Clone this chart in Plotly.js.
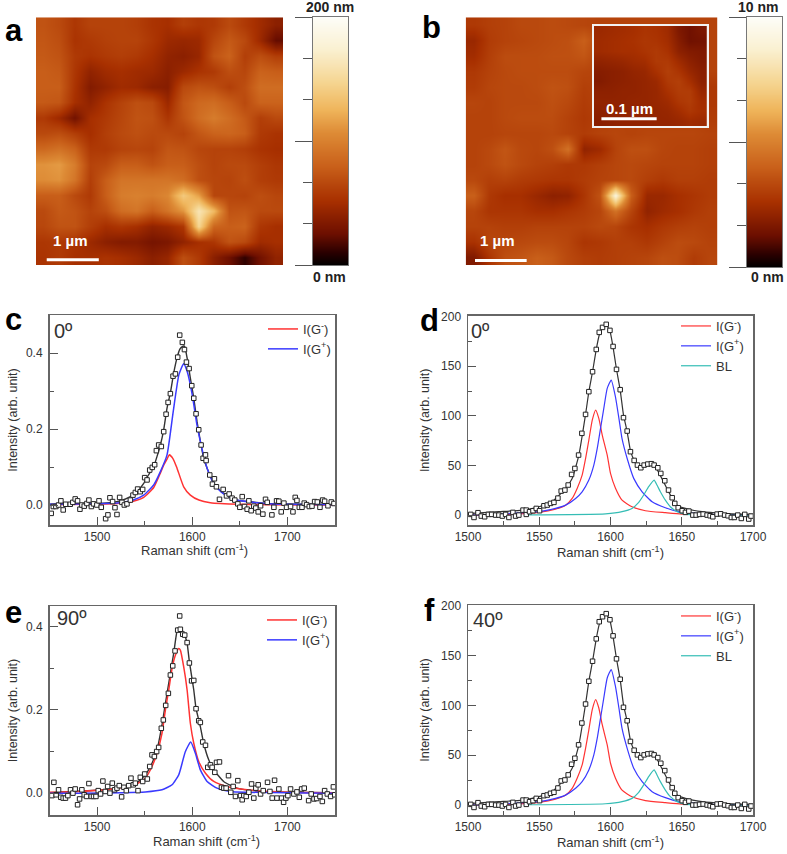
<!DOCTYPE html>
<html><head><meta charset="utf-8">
<script src="https://cdn.plot.ly/plotly-3.0.1.min.js"></script>
<style>html,body{margin:0;padding:0;background:#fff}</style></head>
<body><div id="chart" style="width:787px;height:854px"></div>
<script>
// ---------- AFM height maps (nm), hand read, rows top to bottom ----------
const afmA = [
[78,72,60,68,68,68,65,58,55,65,60,62,72,62,52,42],
[80,75,58,62,66,68,68,60,50,48,50,70,82,72,50,25],
[82,78,62,58,62,65,62,55,45,42,48,78,88,65,75,65],
[85,82,60,45,52,55,52,50,42,50,58,62,75,70,88,85],
[85,85,58,38,45,52,50,42,40,72,78,75,65,75,95,95],
[82,80,55,45,58,68,76,72,50,80,92,95,85,72,88,88],
[62,50,30,55,62,70,78,76,60,78,95,105,95,82,65,72],
[72,75,65,55,65,72,76,72,72,68,80,88,90,85,62,58],
[92,98,88,62,62,68,70,68,80,78,70,68,68,65,58,55],
[118,122,105,68,72,85,85,78,85,85,75,68,72,72,65,60],
[115,118,100,65,85,100,100,100,100,95,75,70,68,75,65,62],
[85,85,72,62,85,105,108,105,112,150,125,70,70,68,75,70],
[72,82,78,68,75,95,100,85,100,120,175,140,78,80,72,72],
[70,78,78,65,55,60,55,45,50,60,160,90,85,88,60,55],
[60,62,58,50,42,38,38,32,35,45,55,60,78,72,52,55],
[58,62,55,55,58,55,50,42,48,75,62,42,28,12,30,45]];
const afmB = [
[3.0,3.2,3.3,3.5,3.5,3.6,3.5,3.4,3.3,3.3,3.3,3.3,3.3,3.3,3.3,3.3],
[2.4,3.1,3.3,3.4,3.5,3.6,3.7,4.2,3.4,3.3,3.3,3.3,3.3,3.3,3.3,3.3],
[2.6,3.2,3.6,3.6,3.6,3.7,3.7,3.9,3.3,3.3,3.3,3.3,3.3,3.3,3.3,3.3],
[3.0,3.3,3.5,3.6,3.6,3.6,3.6,3.4,3.3,3.3,3.3,3.3,3.3,3.3,3.3,3.3],
[3.1,3.4,3.5,3.5,3.6,3.8,3.7,3.2,3.3,3.3,3.3,3.3,3.3,3.3,3.3,3.0],
[3.4,3.3,3.5,3.5,3.5,3.7,3.5,3.1,3.3,3.3,3.3,3.3,3.3,3.3,3.3,3.0],
[3.3,3.3,3.5,3.6,3.6,3.6,3.3,3.0,3.2,3.3,3.3,3.3,3.3,3.3,3.3,3.1],
[3.3,3.3,3.4,3.4,3.4,3.5,3.3,3.1,3.3,3.4,3.3,3.4,3.4,3.4,3.4,3.3],
[3.3,3.5,3.9,3.5,3.4,3.7,4.8,2.2,2.5,3.3,3.7,3.7,3.4,3.3,3.3,3.2],
[3.3,3.5,3.8,3.5,3.3,3.2,3.0,3.0,3.2,3.4,3.5,3.4,3.3,3.3,3.3,3.2],
[3.5,3.2,3.3,3.1,3.0,2.9,2.9,3.1,3.3,3.4,3.5,3.2,3.0,3.2,3.2,3.1],
[4.2,3.0,2.7,2.7,2.4,2.1,2.2,2.9,3.8,9.5,4.2,2.4,2.4,2.7,2.9,3.1],
[3.4,2.9,2.9,2.9,2.7,2.7,2.9,3.1,3.4,4.8,3.4,2.2,2.5,2.7,3.0,3.2],
[3.3,3.3,3.2,3.2,3.3,3.3,3.3,3.3,3.5,3.4,2.9,2.7,3.0,3.2,3.3,3.2],
[2.8,3.4,3.4,3.5,3.6,3.6,3.4,2.9,3.0,3.2,3.2,3.0,3.3,3.6,3.5,3.3],
[1.8,2.9,3.7,3.9,4.2,4.0,3.5,3.2,3.1,3.2,3.3,3.4,3.7,3.6,3.1,3.4]];
const afmInset = [
[2.9,3.0,3.1,3.2,3.4,3.3,3.0,2.1,1.7,2.0],
[3.0,3.1,3.2,3.3,3.5,3.4,3.1,2.3,1.7,1.8],
[3.0,3.1,3.2,3.2,3.4,3.6,3.3,2.5,2.2,2.1],
[2.6,2.7,2.8,3.0,3.1,3.6,3.6,3.0,2.5,2.2],
[2.3,2.4,2.5,2.7,2.8,3.3,3.8,3.4,2.8,2.4],
[2.2,2.4,2.5,2.6,2.7,2.9,3.6,3.8,3.2,2.5],
[2.5,2.5,2.6,2.6,2.7,2.8,3.3,3.7,3.7,2.8],
[2.6,2.6,2.6,2.7,2.7,2.8,3.0,3.5,3.7,3.1],
[2.5,2.6,2.6,2.6,2.6,2.7,2.8,3.1,3.5,3.2],
[2.4,2.5,2.6,2.6,2.6,2.7,2.7,2.8,3.0,2.9]];
const afmColors = [[0,'#000000'],[0.05,'#2a0000'],[0.128,'#6d0f00'],[0.26,'#a83000'],[0.40,'#c9601a'],[0.53,'#dd8a35'],[0.626,'#efb45a'],[0.733,'#f5d48f'],[0.868,'#faf0d0'],[1,'#fdfdf8']];
const barLevelsA = [0,10,20,30,40,50,60,70,80,90,100,110,120,130,140,150,160,170,180,190,200];
const barLevelsB = [0,0.5,1,1.5,2,2.5,3,3.5,4,4.5,5,5.5,6,6.5,7,7.5,8,8.5,9,9.5,10];

// ---------- Panel c ----------
const cX = [1451.8,1454,1456.7,1459.5,1462,1464.4,1467,1471.8,1474.5,1477,1479.5,1482,1484,1486.5,1489.3,1491.4,1494,1496.3,1499.8,1502,1504.4,1509,1511.4,1513.5,1516.3,1518.8,1520.9,1523.7,1526.1,1528.6,1531.4,1535,1537.7,1540.2,1542.6,1545.4,1547.9,1550,1552.5,1555.3,1558,1560.5,1562.3,1564.7,1567.5,1570,1572.5,1574.6,1577,1579.8,1582.3,1584.7,1586.8,1589.6,1591.8,1593.9,1596.7,1599.5,1601.6,1604,1606.8,1609.3,1611.4,1613.9,1614.6,1618.4,1621.2,1623.3,1625.4,1628.6,1632.5,1636,1638.8,1641.9,1644.7,1647.9,1650,1652.5,1654.9,1657.7,1659.5,1661.9,1664.7,1666.8,1669.3,1671.8,1674.2,1677,1678.8,1683.7,1685.8,1688.6,1691,1693.5,1696.3,1699.1,1703.3,1705.8,1708.2,1710,1712.5,1715.3,1717.7,1720.2,1723,1725.8,1728.6,1731.4,1734.2,1737,1739.1,1742.6,1746.1,1748.9];
const cY = [-.022,-.004,-.004,0,.011,-.013,.002,.002,.007,.016,.011,-.011,0,-.003,.004,.013,-.004,.003,0,.011,-.006,-.036,-.026,.019,.009,-.007,-.025,.02,.007,0,.003,.013,.026,.033,.042,.035,.041,.072,.066,.092,.099,.106,.143,.158,.154,.193,.239,.27,.293,.339,.345,.389,.447,.428,.409,.376,.359,.314,.281,.24,.198,.158,.123,.132,.117,.079,.055,.069,.048,.015,.041,.024,.029,.018,.013,.003,-.006,.022,-.004,-.011,.011,-.015,-.003,-.008,-.018,-.002,-.024,.015,.007,-.026,-.006,.011,.01,-.018,.005,-.006,-.004,-.018,.02,.012,-.006,-.006,.005,.001,-.004,-.003,.009,.008,-.006,.013,.01,-.002,.008,.004];
const cFitX = [1450,1503,1524.4,1535,1542,1549,1554,1559.5,1563,1566.5,1570,1573.5,1577,1580.5,1584,1587,1589.5,1591.8,1594.6,1598,1601.6,1605,1608.6,1612,1615.6,1622.6,1630,1643,1679,1750];
const cFitY = [.002,.004,.011,.022,.035,.057,.079,.101,.128,.158,.198,.255,.295,.347,.387,.410,.417,.418,.387,.334,.281,.22,.167,.123,.097,.057,.037,.015,.004,.002];
const cRedX = [1450,1521,1538,1549,1559.5,1566.5,1570,1573.5,1576,1580,1584,1591,1598,1607,1619,1650,1750];
const cRedY = [.001,.004,.01,.02,.046,.084,.105,.121,.132,.121,.097,.048,.026,.013,.006,.002,0];
const cBlueX = [1450,1521,1538,1549,1559.5,1566.5,1573.5,1580,1586,1591,1594.6,1600,1605,1610.5,1615.6,1622.6,1630,1643,1680,1750];
const cBlueY = [.002,.005,.013,.026,.053,.088,.132,.246,.343,.372,.352,.29,.21,.145,.097,.057,.035,.015,.003,.001];

// ---------- Panels d and f ----------
const dX = [1501.9,1504.2,1507,1509.3,1511.7,1514.3,1516.6,1519.4,1521.7,1524.1,1526.4,1528.7,1531.5,1533.4,1535.7,1538.6,1540.9,1540.9,1543.2,1545.6,1547.9,1550.2,1553.3,1555.6,1557.9,1560.3,1563.1,1565.4,1568,1570.3,1572.7,1575,1577.6,1579.9,1582.5,1584.8,1587.4,1590,1592.1,1594.4,1597,1599.6,1601.8,1604.2,1606.8,1609.1,1611.7,1614,1616.6,1618.9,1621.3,1623.6,1626.2,1628.7,1630.6,1633.2,1635.3,1638.1,1640.7,1643.3,1645.1,1647.5,1650.3,1652.6,1655,1657.8,1660.1,1662.5,1665,1667.8,1669.9,1671.8,1674.8,1677.3,1680.1,1682.5,1684.8,1686.9,1689.3,1691.8,1694.2,1697,1698.6];
const dY = [.7,-2.4,2.4,-1,-1.7,.7,.7,0,0,-1,.7,-2.4,2.7,-1,0,5,.7,5,3.4,4.4,6.7,4.4,9.4,10.1,11.8,12.8,17.1,24.2,25.2,30.3,41,47,60.5,82.4,101.5,124.4,144.5,167,184.2,189.2,192.3,186.2,170,146.9,126.4,98.2,84.7,63.9,55.1,50.4,47.7,50.4,51.4,51.8,50.4,47.7,42,34.6,25.2,17.5,11.8,7.4,4.4,2.7,4,0,0,.7,1,0,-.7,-1.7,1,1.3,0,-.7,-2.4,-2.4,0,-3.4,.7,-4,-1];
const dFitX = [1500,1521.7,1538.1,1549.8,1559,1568.5,1573.1,1577.8,1582.5,1584.8,1587.4,1590,1592.1,1594.4,1597,1599.5,1601.6,1604.2,1606.8,1609.1,1611.7,1614,1616.6,1618.9,1621.3,1624,1626.7,1629.1,1632.5,1636,1639.6,1643.3,1646.7,1652.6,1664.3,1678.3,1699.5];
const dFitY = [1.5,3.4,5,8.4,13.4,27,37,60.5,101.5,124.4,144.5,167,181.5,190,191.5,186,171,147,126,101,84,65,55,50,48,50.4,52,51.4,46.4,37,26.9,16.8,10,6.7,3.4,1.7,.7];
const dRedX = [1501.9,1533.4,1549.8,1561.4,1568.5,1573.1,1576.6,1580.1,1582.5,1584.8,1587.2,1589.6,1591.8,1594.2,1597.7,1600,1603.5,1608.1,1615.1,1624.5,1638.5,1650,1700];
const dRedY = [0,1,2.7,6,10,16.8,26.9,40.3,57,75.6,95.8,105.9,97.5,80.7,60.5,42,27,15,8.4,4.4,2.4,1,0];
const dBlueX = [1501.9,1521.7,1549.8,1561.4,1568.5,1575.5,1580.1,1584.8,1588.3,1590.7,1593,1595.3,1597.7,1600.5,1603.5,1605.9,1608.1,1611.7,1616.3,1622.2,1629.2,1638.5,1647.9,1666.7,1700];
const dBlueY = [0,1,3.4,6.7,10,16.8,23.5,35.3,50.4,67.2,87.4,107.6,127.7,136.1,119,97.5,77,57,37,23.5,13.4,7.4,3.4,1,0];
const dBlX = [1540,1596.5,1608.1,1615.1,1619.8,1623.3,1626.8,1630.6,1632.7,1635,1638.5,1642,1646.7,1652.6,1670,1700];
const dBlY = [.3,1.3,3.4,6.7,12.8,20.2,28.6,35.3,30,23.5,15,8.4,3.4,1,0,0];

// ---------- Panel e ----------
const eX = [1452.5,1454.6,1457,1459.5,1461.9,1464.4,1466.8,1469.3,1472.1,1474.6,1477,1479.5,1481.6,1484,1486.5,1488.9,1491.4,1493.9,1496.3,1498.8,1501.2,1503.7,1506.1,1508.6,1511.1,1513.5,1516,1518.4,1520.9,1523.3,1525.8,1528.2,1530.7,1533.2,1535.6,1538.1,1540.2,1543,1545.4,1547.9,1550,1552.8,1555.3,1557.7,1560.2,1562.6,1564.7,1567.5,1569.6,1572.1,1574.9,1577,1579.5,1581.9,1584.7,1586.8,1587.5,1590,1592.1,1594.6,1597,1599.3,1601.6,1604,1606.8,1608.5,1611,1613.9,1616.3,1619.1,1620.9,1623.7,1625.5,1628.6,1630.7,1633.2,1635.6,1638.1,1640.5,1643,1645.4,1647.9,1650.7,1652.5,1654.2,1656.7,1659.5,1662.3,1664.7,1666.8,1669.3,1671.8,1674.6,1679.1,1681.6,1684,1686.5,1689,1691,1693.9,1696,1698.4,1700.5,1703.3,1706.8,1710,1712.5,1714.9,1717.7,1722.3,1725,1727.9,1730.7,1734.2,1736.7,1739.1,1741.9,1745.4,1748.3,1749.7];
const eY = [-.006,.026,-.004,.008,-.01,-.012,-.012,-.006,.008,0,.01,-.028,-.014,.008,-.004,-.008,.023,-.008,-.008,-.008,.006,-.002,.029,.004,.016,0,.024,.008,.012,.018,-.009,.014,.006,.018,.036,.02,.024,.006,.038,.028,.046,.034,.064,.092,.088,.1,.11,.156,.176,.211,.24,.284,.306,.342,.392,.426,.394,.382,.38,.362,.313,.27,.271,.203,.174,.17,.123,.115,.062,.068,.062,.05,.074,.075,.014,.012,.012,.042,.002,.016,-.008,.03,-.006,-.016,-.006,-.008,.002,.022,-.012,.012,.02,-.002,.006,.026,.004,-.012,.031,-.012,.01,-.012,-.022,-.012,-.006,.01,-.002,.003,-.01,.01,.012,-.018,-.002,-.014,-.013,-.008,-.02,.006,-.002,-.008,.015,-.004];
const eFitX = [1450,1515,1540.2,1550.7,1557.7,1563,1568.2,1571.8,1577,1580.5,1584.7,1587,1589.3,1592,1594.6,1597,1601.6,1604,1608.5,1612,1617.3,1622.6,1633,1647,1675,1750];
const eFitY = [.001,.01,.022,.044,.072,.104,.164,.216,.288,.336,.396,.398,.392,.38,.36,.316,.248,.203,.16,.12,.08,.056,.028,.012,.004,.001];
const eRedX = [1450,1480,1515.6,1540.2,1550.7,1557.7,1563,1568.2,1571.8,1575.3,1578.8,1582,1585.8,1587.5,1591,1594.6,1598,1601.6,1606.8,1613.9,1622.6,1636.6,1657.7,1693,1750];
const eRedY = [.002,.004,.01,.02,.036,.064,.096,.144,.2,.248,.3,.33,.348,.344,.304,.248,.168,.12,.076,.048,.028,.016,.008,.003,.001];
const eBlueX = [1450,1480,1550.7,1568.2,1578.8,1585.8,1587.5,1592.8,1598.4,1603.3,1608.5,1615.6,1626,1640,1750];
const eBlueY = [0,0,.003,.008,.02,.044,.056,.1,.123,.096,.056,.028,.012,.004,0];

const AXIS = '#666666', TXT = '#333333', FONT = 'Liberation Sans, Arial, sans-serif';
const XTITLE = 'Raman shift (cm<sup>-1</sup>)';
const px = p => p/787, py = p => 1 - p/854;
const RED='#ff3333', BLUE='#3a3aff', TEAL='#35bdb5', BLACK='#333333';

const traces = [], layout = {
  width:787, height:854, margin:{l:0,r:0,t:0,b:0}, paper_bgcolor:'#fff', plot_bgcolor:'#fff',
  font:{family:FONT,color:TXT,size:12}, showlegend:true, shapes:[], annotations:[]
};
function imgAxes(n,x0,x1,y0,y1,range,line){
  const a = {domain:[px(x0),px(x1)],range:[0,range],showticklabels:false,ticks:'',showgrid:false,zeroline:false,
             showline:!!line,linecolor:line,linewidth:line?2:0,mirror:!!line,fixedrange:true};
  layout['xaxis'+n] = Object.assign({anchor:'y'+n},a);
  layout['yaxis'+n] = Object.assign({},a,{domain:[py(y1),py(y0)],range:[range,0],anchor:'x'+n});
}
function heat(n,z,cellSize,max){
  traces.push({type:'heatmap',z:z,x0:cellSize/2,dx:cellSize,y0:cellSize/2,dy:cellSize,zmin:0,zmax:max,
    colorscale:afmColors,showscale:false,zsmooth:'best',xaxis:'x'+n,yaxis:'y'+n,hoverinfo:'skip',showlegend:false});
}
function bar(n,levels,x0,x1,y0,y1,max){
  layout['xaxis'+n]={domain:[px(x0),px(x1)],anchor:'y'+n,range:[0,1],showticklabels:false,ticks:'',showgrid:false,zeroline:false,
    showline:true,mirror:true,linecolor:'#777',linewidth:1};
  layout['yaxis'+n]={domain:[py(y1),py(y0)],anchor:'x'+n,range:[0,max],side:'left',showticklabels:false,showgrid:false,zeroline:false,
    showline:true,mirror:true,linecolor:'#777',linewidth:1,ticks:'outside',ticklen:17,tickwidth:1,tickcolor:'#555',tick0:0,dtick:max/2,
    minor:{ticks:'outside',ticklen:9,tickwidth:1,tickcolor:'#555',tick0:0,dtick:max/6,showgrid:false}};
  traces.push({type:'heatmap',x:[0,1],y:levels,z:levels.map(v=>[v,v]),zmin:0,zmax:max,colorscale:afmColors,showscale:false,
    zsmooth:'best',xaxis:'x'+n,yaxis:'y'+n,hoverinfo:'skip',showlegend:false});
}
function note(text,x,y,size,color,bold,anchor){
  layout.annotations.push({text:bold?'<b>'+text+'</b>':text,xref:'paper',yref:'paper',x:px(x),y:py(y),showarrow:false,
    xanchor:anchor||'center',yanchor:'middle',font:{size:size,color:color,family:FONT}});
}
function spec(n,leg,x0,x1,y0,y1,xr,yr,xd,xm,yd,ym,fmt,legX,legY,xStand,yStand,scat,curves){
  const ax = {showline:true,mirror:true,linecolor:AXIS,linewidth:1.5,ticks:'inside',ticklen:8,tickwidth:1,tickcolor:'#555',
    showgrid:false,zeroline:false,tickfont:{size:12,color:TXT},fixedrange:true};
  layout['xaxis'+n]=Object.assign({},ax,{domain:[px(x0),px(x1)],anchor:'y'+n,range:xr,tick0:1500,dtick:xd,
    minor:{ticks:'inside',ticklen:4,tickwidth:1,tickcolor:'#555',tick0:1500,dtick:xm,showgrid:false}},
    xStand===null?{}:{title:{text:XTITLE,font:{size:13,color:TXT},standoff:xStand}});
  layout['yaxis'+n]=Object.assign({},ax,{domain:[py(y1),py(y0)],anchor:'x'+n,range:yr,tick0:0,dtick:yd,tickformat:fmt,ticklabelstandoff:3,
    minor:{ticks:'inside',ticklen:4,tickwidth:1,tickcolor:'#555',tick0:0,dtick:ym,showgrid:false},
    title:{text:'Intensity (arb. unit)',font:{size:12.5,color:TXT},standoff:yStand}});
  const lid = leg===1?'legend':'legend'+leg;
  layout[lid]={x:px(legX),y:py(legY),xanchor:'left',yanchor:'top',bgcolor:'rgba(0,0,0,0)',borderwidth:0,
    font:{size:13,color:TXT,family:FONT},itemwidth:30,traceorder:'normal'};
  curves.forEach(c=>traces.push({type:'scatter',mode:'lines',x:c.x,y:c.y,name:c.name||'',line:{color:c.color,width:c.w||1.2,shape:'spline',smoothing:0.5},
    xaxis:'x'+n,yaxis:'y'+n,legend:lid,showlegend:!!c.name,hoverinfo:'skip'}));
  traces.push({type:'scatter',mode:'markers',x:scat.x,y:scat.y,name:'data',showlegend:false,xaxis:'x'+n,yaxis:'y'+n,legend:lid,hoverinfo:'x+y',
    marker:{symbol:'square',size:4.5,color:'#ffffff',line:{color:'#222',width:1}}});
}

// image panels
imgAxes('',36,283.3,17.3,265,4.75); heat('',afmA,4.75/16,215);
bar(2,barLevelsA,313,348,17.3,265,200);
imgAxes(3,465.7,717.3,17.3,265,4.87); heat(3,afmB,4.87/16,10.5);
imgAxes(4,594,706.7,26,126,0.204,'#f2f2f2'); heat(4,afmInset,0.204/10,12.5);
bar(5,barLevelsB,747,782,17.3,267,10);

const bars = [[ 'x','y',0.206,1.206,4.65],['x3','y3',0.18,1.18,4.78],['x4','y4',0.0134,0.1134,0.189]];
bars.forEach(b=>layout.shapes.push({type:'line',xref:b[0],yref:b[1],x0:b[2],x1:b[3],y0:b[4],y1:b[4],line:{color:'#fff',width:3},layer:'above'}));

// spectra
const dCurves = [
 {x:dRedX,y:dRedY,color:RED,name:'I(G<sup>-</sup>)'},
 {x:dBlueX,y:dBlueY,color:BLUE,name:'I(G<sup>+</sup>)'},
 {x:dBlX,y:dBlY,color:TEAL,name:'BL'},
 {x:dFitX,y:dFitY,color:BLACK}];
spec(6,1,49.5,335,315,525,[1450,1750],[-0.0526,0.5],100,50,0.2,0.1,'.1f',263,314,null,5,{x:cX,y:cY},[
 {x:cFitX,y:cFitY,color:BLACK,w:1.4},
 {x:cRedX,y:cRedY,color:RED,name:'I(G<sup>-</sup>)',w:1.5},
 {x:cBlueX,y:cBlueY,color:BLUE,name:'I(G<sup>+</sup>)',w:1.5}]);
spec(7,2,468,753,315.7,525,[1500,1700],[-10,201],50,25,50,25,'d',676,311,2,8,{x:dX,y:dY},dCurves);
spec(8,3,49.5,335,606,815,[1450,1750],[-0.0526,0.45],100,50,0.2,0.1,'.1f',262,605,null,5,{x:eX,y:eY},[
 {x:eFitX,y:eFitY,color:BLACK,w:1.4},
 {x:eRedX,y:eRedY,color:RED,name:'I(G<sup>-</sup>)',w:1.5},
 {x:eBlueX,y:eBlueY,color:BLUE,name:'I(G<sup>+</sup>)',w:1.5}]);
spec(9,4,468,753,605,815,[1500,1700],[-10,201],50,25,50,25,'d',676,601,2,8,{x:dX,y:dY},dCurves);

// text
[['a',3,30],['b',420,27],['c',3,319],['d',418,320],['e',3,612],['f',422,610]].forEach(l=>note(l[0],l[1],l[2],31,'#000',true,'left'));
note('200 nm',330,7,14,'#222',true); note('0 nm',329,277,14,'#222',true);
note('10 nm',758,7,14,'#222',true); note('0 nm',767,277,14,'#222',true);
note('1 µm',70,241,15,'#fff',true); note('1 µm',497,241,15,'#fff',true); note('0.1 µm',629,108,15,'#fff',true);
note('0º',52,331,20,TXT,false,'left'); note('0º',469,331,20,TXT,false,'left');
note('90º',55,618,20,TXT,false,'left'); note('40º',471,620,20,TXT,false,'left');
note(XTITLE,194,550,13,TXT,false); note(XTITLE,206,840.5,13,TXT,false);

Plotly.newPlot('chart',traces,layout,{staticPlot:true,displayModeBar:false});
</script></body></html>
